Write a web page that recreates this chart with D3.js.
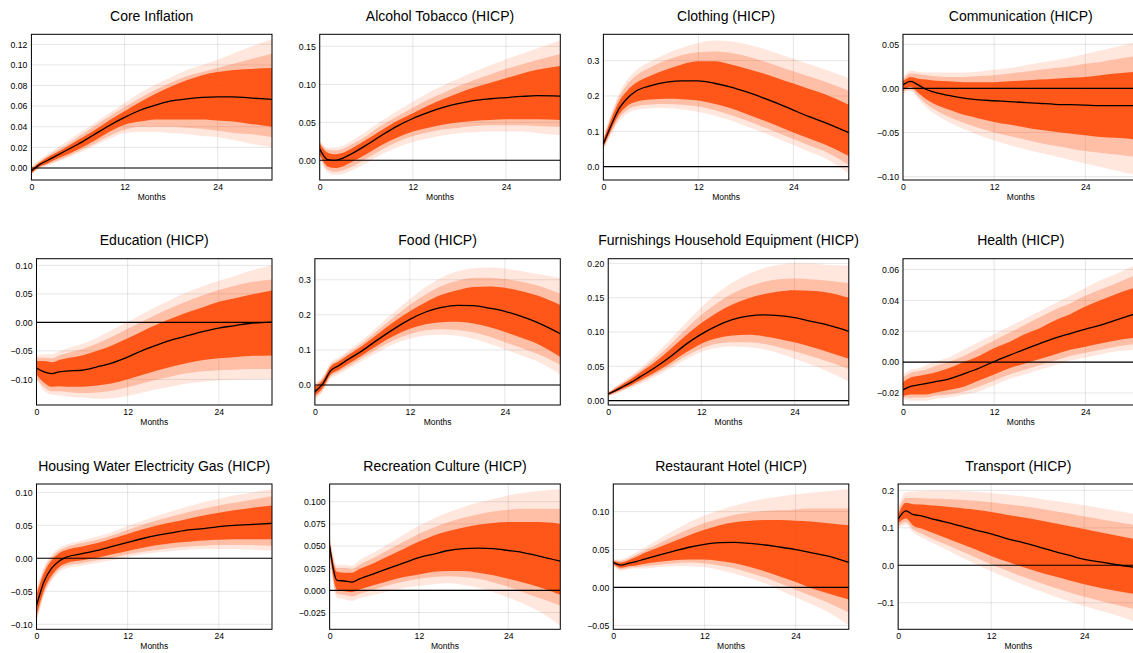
<!DOCTYPE html>
<html>
<head>
<meta charset="utf-8">
<script src="https://cdn.jsdelivr.net/npm/d3@7"></script>
<style>
  html, body { margin: 0; padding: 0; background: #fff; overflow: hidden; }
  svg { display: block; font-family: "Liberation Sans", Arial, sans-serif; }
</style>
</head>
<body>
<svg id="chart" width="1133" height="653"></svg>
<script>
// Horizon (months) at which the impulse responses are sampled
const months = [0, 1, 2, 3, 4, 6, 8, 10, 12, 14, 16, 18, 20, 22, 24, 26, 28, 31];
const xTicks = [0, 12, 24];
const xLabel = "Months";

const titles = [
  "Core Inflation", "Alcohol Tobacco (HICP)", "Clothing (HICP)", "Communication (HICP)",
  "Education (HICP)", "Food (HICP)", "Furnishings Household Equipment (HICP)", "Health (HICP)",
  "Housing Water Electricity Gas (HICP)", "Recreation Culture (HICP)", "Restaurant Hotel (HICP)", "Transport (HICP)"
];

const yTicks = [
  [0, 0.02, 0.04, 0.06, 0.08, 0.10, 0.12],
  [0, 0.05, 0.10, 0.15],
  [0, 0.1, 0.2, 0.3],
  [-0.10, -0.05, 0, 0.05],
  [-0.10, -0.05, 0, 0.05, 0.10],
  [0, 0.1, 0.2, 0.3],
  [0, 0.05, 0.10, 0.15, 0.20],
  [-0.02, 0, 0.02, 0.04, 0.06],
  [-0.10, -0.05, 0, 0.05, 0.10],
  [-0.025, 0, 0.025, 0.050, 0.075, 0.100],
  [-0.05, 0, 0.05, 0.10],
  [-0.1, 0, 0.1, 0.2]
];
const yDecimals = [2, 2, 1, 2, 2, 1, 2, 2, 2, 3, 2, 1];
const yLimits = [
  [-0.0117, 0.1297], [-0.0259, 0.1658], [-0.0377, 0.3745], [-0.1038, 0.0613],
  [-0.145, 0.1117], [-0.0571, 0.36], [-0.0063, 0.2068], [-0.0278, 0.067],
  [-0.1076, 0.1126], [-0.0439, 0.120], [-0.0553, 0.1365], [-0.171, 0.217]
];

// Median response and credible bands: rows are [inner, middle, outer]
const coreMed = [-0.003, 0.003, 0.007, 0.011, 0.015, 0.023, 0.032, 0.041, 0.049, 0.056, 0.061, 0.065, 0.067, 0.0685, 0.069, 0.069, 0.068, 0.0665];
const coreLo = [
  [-0.005, 0.001, 0.004, 0.008, 0.011, 0.018, 0.026, 0.035, 0.042, 0.045, 0.047, 0.047, 0.047, 0.047, 0.046, 0.045, 0.043, 0.040],
  [-0.006, 0.000, 0.003, 0.006, 0.009, 0.016, 0.023, 0.031, 0.037, 0.040, 0.040, 0.040, 0.039, 0.038, 0.036, 0.034, 0.033, 0.030],
  [-0.007, -0.001, 0.002, 0.005, 0.008, 0.014, 0.021, 0.028, 0.034, 0.035, 0.035, 0.034, 0.033, 0.031, 0.030, 0.027, 0.024, 0.020]
];
const coreHi = [
  [-0.001, 0.005, 0.010, 0.014, 0.018, 0.027, 0.036, 0.046, 0.055, 0.064, 0.072, 0.079, 0.085, 0.090, 0.093, 0.095, 0.096, 0.097],
  [0.000, 0.006, 0.011, 0.016, 0.020, 0.030, 0.040, 0.050, 0.059, 0.068, 0.076, 0.083, 0.089, 0.093, 0.097, 0.101, 0.105, 0.111],
  [0.002, 0.008, 0.013, 0.018, 0.023, 0.033, 0.043, 0.053, 0.063, 0.073, 0.081, 0.088, 0.095, 0.100, 0.105, 0.111, 0.117, 0.125]
];

const alcMed = [0.015, 0.001, 0.000, 0.003, 0.008, 0.020, 0.033, 0.045, 0.055, 0.063, 0.070, 0.075, 0.079, 0.081, 0.0825, 0.084, 0.085, 0.0845];
const alcLo = [
  [0.008, -0.008, -0.010, -0.008, -0.003, 0.008, 0.020, 0.030, 0.038, 0.043, 0.047, 0.050, 0.052, 0.053, 0.054, 0.054, 0.054, 0.053],
  [0.006, -0.012, -0.015, -0.013, -0.009, 0.002, 0.014, 0.024, 0.032, 0.037, 0.041, 0.043, 0.045, 0.046, 0.046, 0.046, 0.045, 0.044],
  [0.004, -0.016, -0.019, -0.018, -0.014, -0.004, 0.008, 0.017, 0.024, 0.029, 0.033, 0.036, 0.037, 0.038, 0.038, 0.038, 0.036, 0.033]
];
const alcHi = [
  [0.022, 0.010, 0.008, 0.010, 0.015, 0.027, 0.040, 0.052, 0.062, 0.072, 0.081, 0.089, 0.096, 0.102, 0.108, 0.114, 0.119, 0.124],
  [0.024, 0.014, 0.013, 0.015, 0.020, 0.032, 0.046, 0.058, 0.069, 0.080, 0.089, 0.098, 0.106, 0.113, 0.120, 0.126, 0.132, 0.140],
  [0.026, 0.017, 0.017, 0.019, 0.025, 0.038, 0.052, 0.065, 0.077, 0.089, 0.099, 0.108, 0.117, 0.125, 0.133, 0.140, 0.147, 0.158]
];

const cloMed = [0.064, 0.118, 0.165, 0.193, 0.212, 0.229, 0.239, 0.243, 0.2425, 0.236, 0.226, 0.212, 0.196, 0.179, 0.160, 0.1415, 0.1245, 0.096];
const cloLo = [
  [0.055, 0.105, 0.148, 0.172, 0.183, 0.190, 0.192, 0.191, 0.187, 0.178, 0.166, 0.150, 0.133, 0.115, 0.097, 0.080, 0.063, 0.030],
  [0.052, 0.098, 0.138, 0.160, 0.170, 0.176, 0.177, 0.175, 0.170, 0.160, 0.147, 0.131, 0.114, 0.096, 0.078, 0.060, 0.043, 0.005],
  [0.048, 0.092, 0.130, 0.150, 0.160, 0.165, 0.166, 0.162, 0.155, 0.145, 0.131, 0.115, 0.098, 0.080, 0.061, 0.042, 0.024, -0.020]
];
const cloHi = [
  [0.075, 0.135, 0.185, 0.215, 0.235, 0.258, 0.275, 0.290, 0.298, 0.298, 0.290, 0.278, 0.265, 0.250, 0.235, 0.220, 0.205, 0.175],
  [0.080, 0.145, 0.198, 0.232, 0.255, 0.282, 0.302, 0.316, 0.324, 0.326, 0.322, 0.313, 0.300, 0.285, 0.270, 0.255, 0.240, 0.215],
  [0.085, 0.152, 0.208, 0.245, 0.270, 0.298, 0.320, 0.337, 0.350, 0.357, 0.355, 0.347, 0.335, 0.320, 0.305, 0.290, 0.275, 0.250]
];

const comMed = [0.004, 0.008, 0.004, -0.001, -0.004, -0.008, -0.011, -0.013, -0.014, -0.015, -0.016, -0.017, -0.018, -0.0185, -0.019, -0.0195, -0.0195, -0.0195];
const comLo = [
  [-0.002, 0.002, -0.005, -0.012, -0.017, -0.024, -0.030, -0.034, -0.038, -0.041, -0.044, -0.047, -0.049, -0.051, -0.053, -0.055, -0.056, -0.058],
  [-0.004, -0.001, -0.009, -0.017, -0.023, -0.032, -0.039, -0.045, -0.050, -0.054, -0.058, -0.062, -0.065, -0.068, -0.071, -0.073, -0.075, -0.078],
  [-0.006, -0.003, -0.012, -0.021, -0.028, -0.038, -0.046, -0.053, -0.059, -0.064, -0.069, -0.073, -0.077, -0.081, -0.085, -0.089, -0.093, -0.099]
];
const comHi = [
  [0.008, 0.013, 0.011, 0.010, 0.009, 0.008, 0.007, 0.007, 0.007, 0.008, 0.009, 0.010, 0.011, 0.012, 0.013, 0.015, 0.017, 0.019],
  [0.010, 0.017, 0.016, 0.015, 0.014, 0.013, 0.013, 0.014, 0.015, 0.017, 0.019, 0.021, 0.023, 0.025, 0.028, 0.030, 0.033, 0.037],
  [0.012, 0.020, 0.019, 0.018, 0.018, 0.018, 0.018, 0.019, 0.021, 0.023, 0.026, 0.029, 0.032, 0.035, 0.039, 0.043, 0.047, 0.053]
];

const eduMed = [-0.080, -0.087, -0.090, -0.087, -0.0855, -0.084, -0.078, -0.071, -0.061, -0.049, -0.039, -0.030, -0.023, -0.016, -0.010, -0.006, -0.002, 0.0005];
const eduLo = [
  [-0.092, -0.106, -0.113, -0.112, -0.113, -0.113, -0.111, -0.107, -0.100, -0.092, -0.084, -0.077, -0.071, -0.066, -0.063, -0.061, -0.059, -0.058],
  [-0.097, -0.114, -0.121, -0.121, -0.122, -0.124, -0.123, -0.120, -0.114, -0.107, -0.100, -0.094, -0.089, -0.086, -0.084, -0.083, -0.082, -0.082],
  [-0.101, -0.120, -0.127, -0.128, -0.130, -0.132, -0.134, -0.133, -0.129, -0.123, -0.117, -0.112, -0.107, -0.104, -0.102, -0.101, -0.100, -0.100]
];
const eduHi = [
  [-0.068, -0.068, -0.070, -0.066, -0.063, -0.058, -0.050, -0.040, -0.028, -0.015, -0.003, 0.008, 0.018, 0.027, 0.036, 0.042, 0.048, 0.056],
  [-0.062, -0.062, -0.063, -0.058, -0.054, -0.047, -0.037, -0.025, -0.011, 0.002, 0.015, 0.027, 0.038, 0.048, 0.057, 0.064, 0.070, 0.075],
  [-0.058, -0.056, -0.056, -0.051, -0.046, -0.038, -0.027, -0.013, 0.001, 0.015, 0.029, 0.042, 0.054, 0.064, 0.073, 0.081, 0.090, 0.100]
];

const foodMed = [-0.019, 0.003, 0.041, 0.055, 0.070, 0.098, 0.130, 0.160, 0.187, 0.208, 0.221, 0.227, 0.226, 0.219, 0.210, 0.196, 0.179, 0.146];
const foodLo = [
  [-0.030, -0.008, 0.030, 0.043, 0.057, 0.085, 0.114, 0.140, 0.160, 0.173, 0.179, 0.180, 0.175, 0.165, 0.151, 0.135, 0.118, 0.080],
  [-0.036, -0.014, 0.024, 0.037, 0.050, 0.077, 0.104, 0.128, 0.145, 0.156, 0.159, 0.157, 0.150, 0.138, 0.122, 0.106, 0.090, 0.058],
  [-0.042, -0.019, 0.018, 0.030, 0.043, 0.068, 0.094, 0.117, 0.132, 0.141, 0.143, 0.140, 0.132, 0.118, 0.102, 0.085, 0.068, 0.030]
];
const foodHi = [
  [-0.005, 0.014, 0.053, 0.067, 0.082, 0.112, 0.146, 0.180, 0.210, 0.236, 0.257, 0.270, 0.279, 0.281, 0.277, 0.268, 0.256, 0.228],
  [0.000, 0.020, 0.058, 0.072, 0.088, 0.120, 0.157, 0.194, 0.229, 0.258, 0.282, 0.297, 0.305, 0.306, 0.302, 0.295, 0.284, 0.260],
  [0.005, 0.025, 0.064, 0.078, 0.095, 0.128, 0.168, 0.207, 0.245, 0.279, 0.306, 0.324, 0.333, 0.335, 0.332, 0.325, 0.317, 0.305]
];

const furMed = [0.010, 0.015, 0.021, 0.027, 0.034, 0.048, 0.064, 0.082, 0.097, 0.109, 0.118, 0.123, 0.125, 0.124, 0.121, 0.116, 0.111, 0.101];
const furLo = [
  [0.008, 0.013, 0.018, 0.023, 0.029, 0.041, 0.055, 0.070, 0.083, 0.091, 0.095, 0.096, 0.094, 0.090, 0.085, 0.079, 0.072, 0.061],
  [0.007, 0.011, 0.016, 0.021, 0.026, 0.038, 0.051, 0.065, 0.076, 0.083, 0.085, 0.085, 0.083, 0.078, 0.072, 0.065, 0.058, 0.046],
  [0.006, 0.010, 0.015, 0.019, 0.024, 0.035, 0.047, 0.060, 0.071, 0.077, 0.079, 0.078, 0.075, 0.069, 0.061, 0.053, 0.044, 0.028]
];
const furHi = [
  [0.011, 0.018, 0.025, 0.032, 0.040, 0.056, 0.075, 0.095, 0.113, 0.128, 0.140, 0.149, 0.155, 0.159, 0.161, 0.160, 0.158, 0.150],
  [0.012, 0.020, 0.027, 0.035, 0.043, 0.061, 0.082, 0.104, 0.125, 0.142, 0.156, 0.166, 0.173, 0.177, 0.178, 0.177, 0.175, 0.171],
  [0.013, 0.021, 0.029, 0.037, 0.046, 0.066, 0.089, 0.113, 0.136, 0.156, 0.172, 0.184, 0.193, 0.198, 0.200, 0.200, 0.198, 0.197]
];

const heaMed = [-0.018, -0.0157, -0.0148, -0.014, -0.013, -0.011, -0.0076, -0.004, 0.0004, 0.0044, 0.0083, 0.012, 0.0155, 0.0185, 0.0214, 0.024, 0.0272, 0.032];
const heaLo = [
  [-0.022, -0.021, -0.021, -0.021, -0.020, -0.018, -0.016, -0.012, -0.008, -0.004, -0.001, 0.002, 0.005, 0.008, 0.010, 0.012, 0.014, 0.016],
  [-0.023, -0.023, -0.023, -0.023, -0.022, -0.021, -0.019, -0.016, -0.012, -0.008, -0.005, -0.002, 0.001, 0.004, 0.006, 0.008, 0.010, 0.012],
  [-0.024, -0.025, -0.025, -0.025, -0.024, -0.023, -0.021, -0.019, -0.015, -0.011, -0.008, -0.005, -0.002, 0.001, 0.003, 0.005, 0.007, 0.008]
];
const heaHi = [
  [-0.013, -0.010, -0.009, -0.008, -0.007, -0.004, 0.000, 0.004, 0.009, 0.013, 0.018, 0.022, 0.027, 0.031, 0.036, 0.040, 0.044, 0.049],
  [-0.010, -0.007, -0.006, -0.005, -0.003, 0.000, 0.004, 0.009, 0.014, 0.019, 0.024, 0.029, 0.034, 0.038, 0.043, 0.047, 0.051, 0.057],
  [-0.008, -0.005, -0.004, -0.002, 0.000, 0.003, 0.008, 0.013, 0.018, 0.023, 0.028, 0.033, 0.038, 0.043, 0.048, 0.053, 0.057, 0.064]
];

const houMed = [-0.072, -0.035, -0.015, -0.004, 0.002, 0.007, 0.012, 0.018, 0.024, 0.030, 0.035, 0.039, 0.043, 0.045, 0.048, 0.050, 0.051, 0.053];
const houLo = [
  [-0.088, -0.048, -0.026, -0.013, -0.007, -0.003, 0.001, 0.006, 0.011, 0.016, 0.020, 0.023, 0.025, 0.027, 0.028, 0.029, 0.029, 0.029],
  [-0.094, -0.053, -0.031, -0.017, -0.011, -0.007, -0.003, 0.001, 0.006, 0.010, 0.013, 0.016, 0.018, 0.019, 0.020, 0.020, 0.020, 0.019],
  [-0.098, -0.057, -0.034, -0.021, -0.015, -0.011, -0.007, -0.003, 0.002, 0.006, 0.009, 0.011, 0.013, 0.014, 0.014, 0.014, 0.013, 0.012]
];
const houHi = [
  [-0.055, -0.022, -0.003, 0.008, 0.013, 0.018, 0.023, 0.030, 0.037, 0.044, 0.050, 0.055, 0.060, 0.065, 0.069, 0.073, 0.076, 0.080],
  [-0.050, -0.017, 0.002, 0.012, 0.017, 0.023, 0.028, 0.035, 0.043, 0.051, 0.058, 0.064, 0.070, 0.075, 0.080, 0.084, 0.088, 0.094],
  [-0.046, -0.013, 0.006, 0.016, 0.021, 0.027, 0.033, 0.040, 0.049, 0.057, 0.065, 0.072, 0.079, 0.085, 0.090, 0.095, 0.099, 0.105]
];

const recMed = [0.050, 0.0113, 0.0106, 0.0094, 0.013, 0.019, 0.025, 0.031, 0.037, 0.041, 0.045, 0.047, 0.0476, 0.047, 0.045, 0.0427, 0.039, 0.033];
const recLo = [
  [0.044, 0.001, -0.001, -0.002, 0.001, 0.006, 0.011, 0.015, 0.018, 0.021, 0.022, 0.022, 0.020, 0.017, 0.013, 0.009, 0.004, -0.005],
  [0.041, -0.004, -0.005, -0.007, -0.004, 0.001, 0.006, 0.010, 0.013, 0.015, 0.016, 0.015, 0.013, 0.009, 0.004, -0.002, -0.008, -0.017],
  [0.038, -0.008, -0.010, -0.012, -0.009, -0.005, -0.001, 0.003, 0.005, 0.007, 0.008, 0.006, 0.003, -0.002, -0.008, -0.015, -0.023, -0.040]
];
const recHi = [
  [0.056, 0.021, 0.020, 0.020, 0.024, 0.031, 0.039, 0.047, 0.055, 0.062, 0.067, 0.071, 0.074, 0.076, 0.077, 0.077, 0.077, 0.075],
  [0.059, 0.025, 0.025, 0.024, 0.029, 0.037, 0.046, 0.055, 0.064, 0.071, 0.077, 0.082, 0.086, 0.089, 0.091, 0.092, 0.092, 0.092],
  [0.062, 0.029, 0.029, 0.028, 0.034, 0.043, 0.053, 0.063, 0.073, 0.081, 0.088, 0.094, 0.099, 0.103, 0.107, 0.110, 0.112, 0.114]
];

const resMed = [0.033, 0.0295, 0.0317, 0.034, 0.037, 0.0427, 0.048, 0.053, 0.0568, 0.059, 0.0594, 0.058, 0.056, 0.053, 0.050, 0.046, 0.042, 0.033];
const resLo = [
  [0.031, 0.026, 0.028, 0.029, 0.031, 0.034, 0.036, 0.037, 0.037, 0.035, 0.032, 0.027, 0.021, 0.014, 0.007, -0.001, -0.007, -0.016],
  [0.030, 0.024, 0.026, 0.027, 0.028, 0.030, 0.032, 0.033, 0.032, 0.029, 0.025, 0.019, 0.013, 0.005, -0.003, -0.011, -0.019, -0.033],
  [0.029, 0.022, 0.024, 0.025, 0.025, 0.027, 0.028, 0.028, 0.027, 0.023, 0.018, 0.012, 0.005, -0.004, -0.013, -0.022, -0.031, -0.050]
];
const resHi = [
  [0.035, 0.033, 0.036, 0.040, 0.045, 0.053, 0.061, 0.069, 0.076, 0.082, 0.086, 0.088, 0.089, 0.089, 0.088, 0.087, 0.085, 0.082],
  [0.036, 0.035, 0.038, 0.043, 0.048, 0.058, 0.068, 0.077, 0.085, 0.091, 0.096, 0.099, 0.101, 0.102, 0.103, 0.104, 0.104, 0.104],
  [0.037, 0.037, 0.041, 0.046, 0.052, 0.064, 0.075, 0.086, 0.095, 0.102, 0.108, 0.113, 0.117, 0.120, 0.123, 0.125, 0.127, 0.130]
];

const traMed = [0.123, 0.145, 0.135, 0.132, 0.126, 0.116, 0.105, 0.094, 0.084, 0.071, 0.061, 0.050, 0.038, 0.027, 0.016, 0.009, 0.002, -0.007];
const traLo = [
  [0.112, 0.125, 0.105, 0.098, 0.090, 0.074, 0.058, 0.042, 0.025, 0.010, -0.004, -0.017, -0.029, -0.040, -0.051, -0.060, -0.068, -0.078],
  [0.104, 0.115, 0.095, 0.085, 0.075, 0.057, 0.039, 0.021, 0.003, -0.014, -0.030, -0.045, -0.059, -0.072, -0.084, -0.095, -0.105, -0.120],
  [0.097, 0.108, 0.086, 0.075, 0.064, 0.044, 0.023, 0.003, -0.016, -0.034, -0.051, -0.067, -0.082, -0.096, -0.109, -0.121, -0.133, -0.155]
];
const traHi = [
  [0.135, 0.167, 0.163, 0.162, 0.160, 0.157, 0.153, 0.148, 0.142, 0.135, 0.128, 0.121, 0.113, 0.105, 0.097, 0.088, 0.080, 0.068],
  [0.145, 0.180, 0.180, 0.179, 0.178, 0.177, 0.175, 0.172, 0.168, 0.163, 0.158, 0.152, 0.145, 0.138, 0.130, 0.123, 0.116, 0.106],
  [0.155, 0.195, 0.197, 0.198, 0.199, 0.199, 0.198, 0.196, 0.193, 0.189, 0.184, 0.178, 0.172, 0.166, 0.160, 0.153, 0.146, 0.135]
];

const medians = [coreMed, alcMed, cloMed, comMed, eduMed, foodMed, furMed, heaMed, houMed, recMed, resMed, traMed];
const lowers = [coreLo, alcLo, cloLo, comLo, eduLo, foodLo, furLo, heaLo, houLo, recLo, resLo, traLo];
const uppers = [coreHi, alcHi, cloHi, comHi, eduHi, foodHi, furHi, heaHi, houHi, recHi, resHi, traHi];

// ---- layout ----
const svg = d3.select("#chart");
const colStart = [10.5, 298.8, 587.3, 877];   // left edge of y tick labels per column
const plotRightOffset = 261.5;                // frame right edge relative to colStart
const rowTop = [34.3, 258.7, 484];
const rowBottom = [180, 405, 629.3];
const bandColor = "#ff4500";
const bandOpacity = [0.85, 0.25, 0.13];       // inner, middle, outer
const tickFont = 8.7;

titles.forEach((title, i) => {
  const r = Math.floor(i / 4), c = i % 4;
  const top = rowTop[r], bottom = rowBottom[r];
  const right = colStart[c] + plotRightOffset;
  const fmt = d3.format("." + yDecimals[i] + "f");
  const g = svg.append("g");

  const y = d3.scaleLinear().domain(yLimits[i]).range([bottom, top]);

  // y tick labels first, so the frame can sit right after the widest one
  const yAxisG = g.append("g").attr("class", "yaxis")
    .call(d3.axisLeft(y).tickValues(yTicks[i]).tickFormat(fmt).tickSize(0).tickPadding(4));
  yAxisG.select(".domain").remove();
  yAxisG.attr("font-size", null).attr("font-family", null);
  yAxisG.selectAll("text").attr("font-size", tickFont).attr("fill", "#000");
  const maxW = d3.max(yAxisG.selectAll("text").nodes(), n => n.getComputedTextLength());
  const left = colStart[c] + maxW + 4;
  yAxisG.attr("transform", `translate(${left},0)`);

  const x = d3.scaleLinear().domain([0, 31]).range([left, right]);

  const clipId = "clip" + i;
  g.append("clipPath").attr("id", clipId)
    .append("rect").attr("x", left).attr("y", top).attr("width", right - left).attr("height", bottom - top);

  // grid
  const grid = g.append("g").attr("stroke", "#000").attr("stroke-opacity", 0.1).attr("stroke-width", 1);
  grid.selectAll("line.gx").data(xTicks).join("line")
    .attr("x1", d => x(d)).attr("x2", d => x(d)).attr("y1", top).attr("y2", bottom);
  grid.selectAll("line.gy").data(yTicks[i]).join("line")
    .attr("x1", left).attr("x2", right).attr("y1", d => y(d)).attr("y2", d => y(d));

  // fan bands, outermost first
  const plot = g.append("g").attr("clip-path", `url(#${clipId})`);
  [2, 1, 0].forEach(b => {
    const area = d3.area()
      .x((d, k) => x(months[k]))
      .y0((d, k) => y(lowers[i][b][k]))
      .y1((d, k) => y(uppers[i][b][k]))
      .curve(d3.curveMonotoneX);
    plot.append("path").datum(months)
      .attr("d", area)
      .attr("fill", bandColor)
      .attr("fill-opacity", bandOpacity[b]);
  });

  // zero line
  plot.append("line")
    .attr("x1", left).attr("x2", right).attr("y1", y(0)).attr("y2", y(0))
    .attr("stroke", "#000").attr("stroke-width", 1.1);

  // median response
  const line = d3.line()
    .x((d, k) => x(months[k]))
    .y(d => y(d))
    .curve(d3.curveMonotoneX);
  plot.append("path").datum(medians[i])
    .attr("d", line).attr("fill", "none")
    .attr("stroke", "#000").attr("stroke-width", 1.3);

  // frame
  g.append("rect")
    .attr("x", left).attr("y", top).attr("width", right - left).attr("height", bottom - top)
    .attr("fill", "none").attr("stroke", "#000").attr("stroke-width", 1);

  // x axis labels
  const xAxisG = g.append("g").attr("transform", `translate(0,${bottom})`)
    .call(d3.axisBottom(x).tickValues(xTicks).tickFormat(d3.format("d")).tickSize(0).tickPadding(4));
  xAxisG.select(".domain").remove();
  xAxisG.attr("font-size", null).attr("font-family", null);
  xAxisG.selectAll("text").attr("font-size", tickFont).attr("fill", "#000");

  g.append("text")
    .attr("x", (left + right) / 2).attr("y", bottom + 19.7)
    .attr("text-anchor", "middle").attr("font-size", 8.5).attr("fill", "#000")
    .text(xLabel);

  g.append("text")
    .attr("x", (left + right) / 2).attr("y", top - 13.5)
    .attr("text-anchor", "middle").attr("font-size", 14).attr("fill", "#000")
    .text(title);
});
</script>
</body>
</html>
